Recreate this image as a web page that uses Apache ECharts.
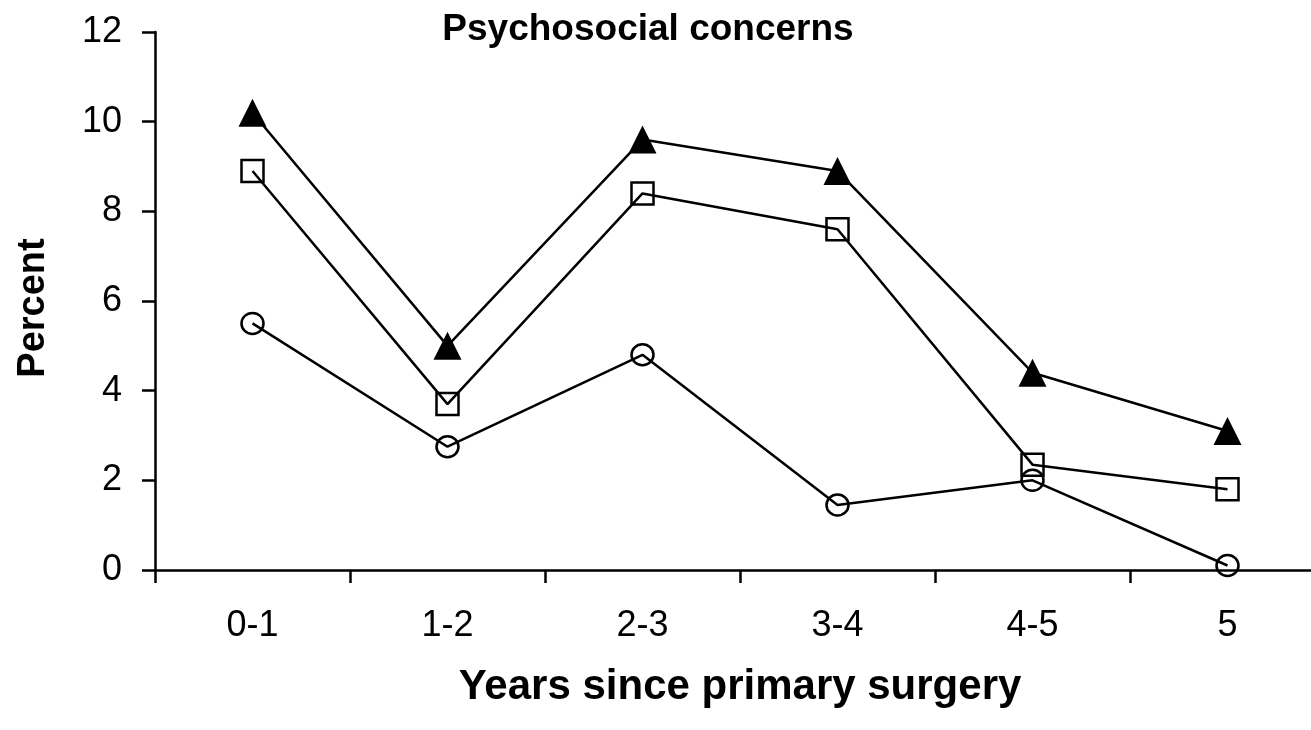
<!DOCTYPE html>
<html>
<head>
<meta charset="utf-8">
<script src="https://cdn.jsdelivr.net/npm/echarts@6/dist/echarts.min.js"></script>
<style>
  html, body { margin: 0; padding: 0; background: #fff; }
  #chart { width: 1311px; height: 730px; }
</style>
</head>
<body>
<div id="chart"></div>
<script>
const categories = ['0-1', '1-2', '2-3', '3-4', '4-5', '5'];
const triangleValues = [10.2, 5.0, 9.6, 8.9, 4.4, 3.1];
const squareValues = [8.9, 3.7, 8.4, 7.6, 2.35, 1.8];
const circleValues = [5.5, 2.75, 4.8, 1.45, 2.0, 0.1];
const yTicks = { min: 0, max: 12, interval: 2 };

const font = 'Liberation Sans, Arial, sans-serif';
const chart = echarts.init(document.getElementById('chart'));

function makeSeries(name, data, symbol, size, filled) {
  return {
    name: name,
    type: 'line',
    data: data,
    symbol: symbol,
    symbolSize: size,
    showAllSymbol: true,
    animation: false,
    lineStyle: { color: '#000', width: 2.5 },
    itemStyle: {
      color: filled ? '#000' : 'rgba(0,0,0,0)',
      borderColor: '#000',
      borderWidth: filled ? 0 : 2.5
    },
    emphasis: { disabled: true }
  };
}

const option = {
  backgroundColor: '#fff',
  title: {
    text: 'Psychosocial concerns',
    left: 643,
    top: 6,
    textAlign: 'center',
    textStyle: { fontFamily: font, fontSize: 37, fontWeight: 'bold', color: '#000' }
  },
  grid: { left: 155, right: -14, top: 32, bottom: 160, outerBoundsMode: 'none' },
  xAxis: {
    type: 'category',
    data: categories,
    boundaryGap: true,
    name: 'Years since primary surgery',
    nameLocation: 'middle',
    nameGap: 96,
    nameTextStyle: { fontFamily: font, fontSize: 42, fontWeight: 'bold', color: '#000' },
    axisLine: { lineStyle: { color: '#000', width: 2.5 } },
    axisTick: { show: true, length: 13, lineStyle: { color: '#000', width: 2.5 } },
    axisLabel: { fontFamily: font, fontSize: 36, color: '#000', margin: 38 },
    splitLine: { show: false }
  },
  yAxis: {
    type: 'value',
    min: yTicks.min,
    max: yTicks.max,
    interval: yTicks.interval,
    name: 'Percent',
    nameLocation: 'middle',
    nameGap: 102,
    nameTextStyle: { fontFamily: font, fontSize: 38, fontWeight: 'bold', color: '#000', padding: [0, 14, 0, 0] },
    axisLine: { show: true, lineStyle: { color: '#000', width: 2.5 } },
    axisTick: { show: true, length: 13, lineStyle: { color: '#000', width: 2.5 } },
    axisLabel: { fontFamily: font, fontSize: 36, color: '#000', margin: 33 },
    splitLine: { show: false }
  },
  series: [
    makeSeries('Circle', circleValues, 'circle', [22, 21], false),
    makeSeries('Square', squareValues, 'rect', [22, 22], false),
    makeSeries('Triangle', triangleValues, 'triangle', [28, 28], true)
  ]
};

chart.setOption(option);
</script>
</body>
</html>
